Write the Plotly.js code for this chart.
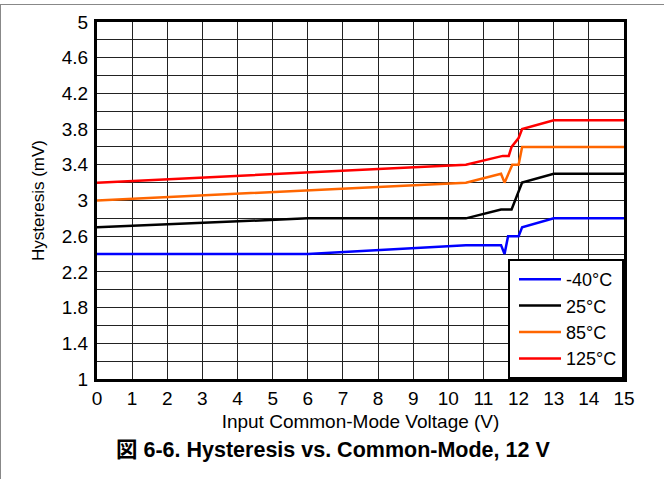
<!DOCTYPE html>
<html>
<head>
<meta charset="utf-8">
<script src="https://cdn.plot.ly/plotly-3.0.1.min.js"></script>
<style>
html,body{margin:0;padding:0;background:#fff;}
#wrap{position:relative;width:664px;height:479px;}
#chart{width:664px;height:479px;}
#bt{position:absolute;left:0;top:4px;width:664px;height:0;border-top:1px solid #888;pointer-events:none;}
#bl{position:absolute;left:0;top:4px;width:0;height:475px;border-left:1px solid #888;pointer-events:none;}
</style>
</head>
<body>
<div id="wrap"><div id="chart"></div><div id="bt"></div><div id="bl"></div></div>
<script>
// Data
const names = ["-40°C", "25°C", "85°C", "125°C"];
const colors = ["#0000ff", "#000000", "#ff6600", "#ff0000"];

const xM40 = [0, 6, 10.5, 11.5, 11.6, 11.7, 12.0, 12.1, 13, 15];
const yM40 = [2.4, 2.4, 2.5, 2.5, 2.4, 2.6, 2.6, 2.7, 2.8, 2.8];

const x25 = [0, 6, 10.5, 11.5, 11.8, 12.1, 13, 15];
const y25 = [2.7, 2.8, 2.8, 2.9, 2.9, 3.2, 3.3, 3.3];

const x85 = [0, 10.5, 11.5, 11.6, 11.82, 12.0, 12.1, 15];
const y85 = [3.0, 3.2, 3.3, 3.2, 3.4, 3.4, 3.6, 3.6];

const x125 = [0, 10.5, 11.55, 11.72, 11.8, 12.0, 12.1, 13, 15];
const y125 = [3.2, 3.4, 3.5, 3.5, 3.6, 3.7, 3.8, 3.9, 3.9];

const xs = [xM40, x25, x85, x125];
const ys = [yM40, y25, y85, y125];

const xTicks = [0,1,2,3,4,5,6,7,8,9,10,11,12,13,14,15];
const yTicks = [1,1.4,1.8,2.2,2.6,3,3.4,3.8,4.2,4.6,5];
const yTickText = ["1","1.4","1.8","2.2","2.6","3","3.4","3.8","4.2","4.6","5"];

const xTitle = "Input Common-Mode Voltage (V)";
const yTitle = "Hysteresis (mV)";
const caption = "図 6-6. Hysteresis vs. Common-Mode, 12 V";

const FONT = "Liberation Sans, Arial, Noto Sans CJK JP, sans-serif";

const traces = names.map((n, i) => ({
  x: xs[i], y: ys[i], name: n, type: "scatter", mode: "lines",
  line: {color: colors[i], width: 2.5}
}));

const layout = {
  width: 664, height: 479,
  margin: {l: 97, r: 40, t: 22, b: 100},
  paper_bgcolor: "#fff", plot_bgcolor: "#fff",
  font: {family: FONT, size: 19, color: "#000"},
  showlegend: true,
  legend: {
    x: 1, y: 0, xanchor: "right", yanchor: "bottom",
    bgcolor: "#fff", bordercolor: "#000", borderwidth: 2,
    font: {family: FONT, size: 18, color: "#000"},
    tracegroupgap: 0, itemwidth: 42, indentation: 4
  },
  xaxis: {
    range: [0, 15], tickvals: xTicks, ticktext: xTicks.map(String),
    showgrid: true, gridcolor: "#222", gridwidth: 1,
    showline: true, mirror: true, linecolor: "#000", linewidth: 3,
    zeroline: false, ticks: "", ticklen: 0,
    tickfont: {size: 19},
    title: {text: xTitle, font: {size: 19}, standoff: 7}
  },
  yaxis: {
    range: [1, 5], tickvals: yTicks, ticktext: yTickText,
    showgrid: true, gridcolor: "#222", gridwidth: 1,
    minor: {dtick: 0.2, tick0: 1, showgrid: true, gridcolor: "#222", gridwidth: 1, ticks: ""},
    showline: true, mirror: true, linecolor: "#000", linewidth: 3,
    zeroline: false, ticks: "", ticklen: 0,
    ticklabelstandoff: 2,
    tickfont: {size: 19},
    title: {text: yTitle, font: {size: 17}, standoff: 13}
  },
  annotations: [{
    text: "<b>" + caption + "</b>", xref: "paper", yref: "paper",
    x: (332.5 - 97) / 527, y: -(450 - 379) / 357, xanchor: "center", yanchor: "middle",
    showarrow: false, font: {family: FONT, size: 21.5, color: "#000"}
  }]
};

Plotly.newPlot("chart", traces, layout, {displayModeBar: false, staticPlot: true});
</script>
</body>
</html>
